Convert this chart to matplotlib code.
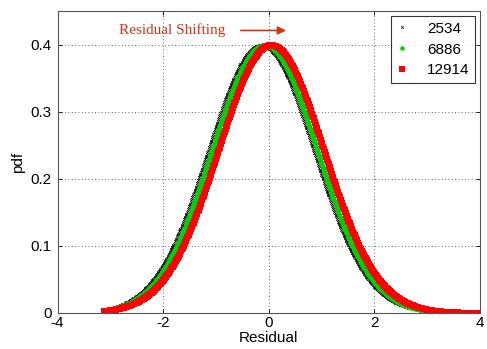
import numpy as np
import matplotlib
matplotlib.use("Agg")
import matplotlib.pyplot as plt

labels = ["2534", "6886", "12914"]
means = [-0.15, -0.08, 0.05]
sigmas = [1.0, 1.0, 1.0]
x_start = [-2.95, -3.02, -3.12]
x_stop = [4.2, 4.2, 4.2]
colors = ["black", "#00d000", "#ff0000"]
markers = ["x", "o", "s"]
msizes = [2.0, 3.6, 4.2]

xticks = [-4, -2, 0, 2, 4]
yticks = [0, 0.1, 0.2, 0.3, 0.4]

plt.rcParams['font.family'] = ['Liberation Sans', 'DejaVu Sans']
fig = plt.figure(figsize=(4.87, 3.49), dpi=100)
ax = fig.add_axes([57.5/487, 1-313/349, (480-57.5)/487, (313-11)/349])

for lab, m, s, a, b, c, mk, ms in zip(labels, means, sigmas, x_start, x_stop, colors, markers, msizes):
    x = np.linspace(a, b, 700)
    y = np.exp(-0.5*((x-m)/s)**2)/(s*np.sqrt(2*np.pi))
    ax.plot(x, y, linestyle='none', marker=mk, color=c, markersize=ms,
            markeredgewidth=0.5 if mk == 'x' else 0, label=lab, clip_on=True)

ax.set_xlim(-4, 4)
ax.set_ylim(0, 0.45)
ax.set_xticks(xticks)
ax.set_xticklabels([str(t) for t in xticks])
ax.set_yticks(yticks)
ax.set_yticklabels(["0", "0.1", "0.2", "0.3", "0.4"])
ax.tick_params(direction='in', top=True, right=True, labelsize=11, length=3, width=0.6, pad=2)
ax.tick_params(axis='y', pad=4)
ax.grid(True, linestyle=(0, (1, 3)), color='black', linewidth=0.6, alpha=0.8)
for sp in ax.spines.values():
    sp.set_color('#555555')
    sp.set_linewidth(0.8)
ax.set_xlabel("Residual", fontsize=11, labelpad=1)
ax.set_ylabel("pdf", fontsize=11, labelpad=4)

leg = ax.legend(loc='upper right', fontsize=11, frameon=True, fancybox=False,
                edgecolor='black', markerscale=0.9, handlelength=0.8,
                borderaxespad=0.35, borderpad=0.35, labelspacing=0.45, handletextpad=1.2)
leg.get_frame().set_linewidth(0.8)

ax.text(-1.83, 0.421, "Residual Shifting", family=['Liberation Serif', 'DejaVu Serif'],
        fontsize=11, color='#d83010', ha='center', va='center')
ax.annotate("", xy=(0.38, 0.421), xytext=(-0.58, 0.421),
            arrowprops=dict(arrowstyle='-|>', color='#d83010', lw=1.2, mutation_scale=12))

fig.savefig("out.png", dpi=100)
